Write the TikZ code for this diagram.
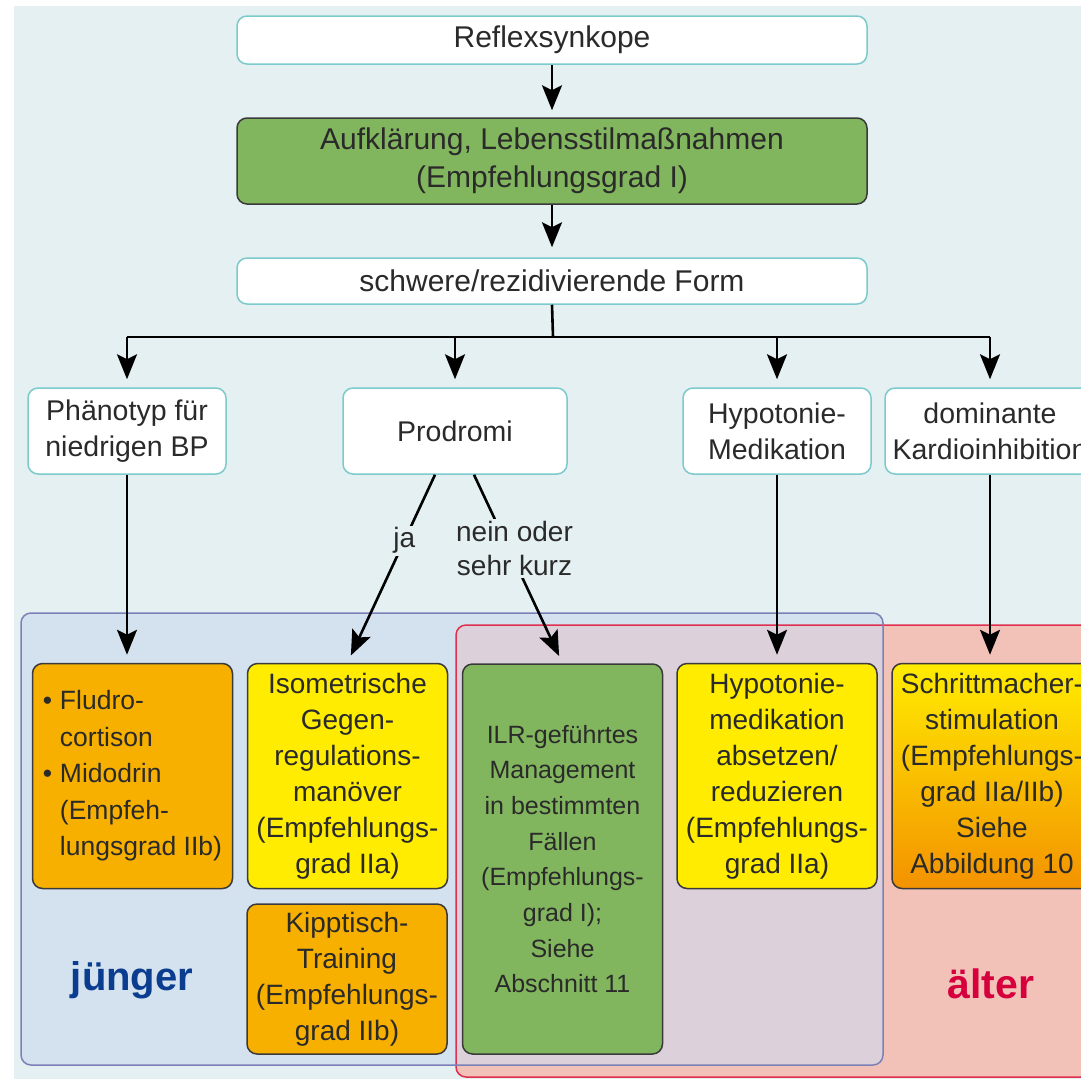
\documentclass[tikz,border=0pt]{standalone}
\usepackage{fontspec}
\setmainfont{Liberation Sans}
\usepackage{xcolor}
\usetikzlibrary{arrows.meta, positioning}

\definecolor{hgteal}{HTML}{E4F0F1}
\definecolor{randteal}{HTML}{7CCACB}
\definecolor{gruen}{HTML}{82B65E}
\definecolor{gelb}{HTML}{FFEC00}
\definecolor{orange}{HTML}{F8B000}
\definecolor{dunkelorange}{HTML}{F39200}
\definecolor{blaufeld}{HTML}{D4E2EF}
\definecolor{blaurand}{HTML}{7B80B8}
\definecolor{rotfeld}{HTML}{F2C1B8}
\definecolor{rotrand}{HTML}{E0304F}
\definecolor{ueberlapp}{HTML}{DCD1DA}
\definecolor{textgrau}{HTML}{2A2A2A}
\definecolor{dunkelrand}{HTML}{3A3A3A}
\definecolor{jungblau}{HTML}{0A3D8F}
\definecolor{altrot}{HTML}{D5003C}

\newcommand{\punkt}{\makebox[17pt][l]{\textbullet}}
\newcommand{\einzug}{\hspace*{17pt}}

\begin{document}
\begin{tikzpicture}[x=1pt, y=-1pt,
			frage/.style={draw=randteal, line width=1.5pt, fill=white, rounded corners=10pt, inner sep=0pt, align=center, text=textgrau, minimum height=86pt, font=\fontsize{28.5}{36}\selectfont},
			kopf/.style={frage, minimum width=630pt, font=\fontsize{30}{38}\selectfont},
			massnahme/.style={draw=dunkelrand, line width=1.5pt, rounded corners=10pt, inner sep=0pt, align=center, text=textgrau, minimum width=200pt, minimum height=225pt, font=\fontsize{28}{36}\selectfont},
			pfeil/.style={line width=2.6pt, black, -{Stealth[length=25pt, width=20pt, inset=5pt]}, shorten >=8pt},
			linie/.style={line width=2.6pt, black},
			antwort/.style={fill=hgteal, inner sep=2pt, align=center, text=textgrau, font=\fontsize{28}{34}\selectfont}
			]
			\useasboundingbox (0,0) rectangle (1081,1079);
			\clip (0,0) rectangle (1081,1079);
			\fill[hgteal] (14,6) rectangle (1081,1079);
			\fill[blaufeld, rounded corners=10pt] (21,613) rectangle (883,1065);
			\fill[rotfeld, rounded corners=10pt] (456,625) rectangle (1110,1077);
			\begin{scope}
				\clip[rounded corners=10pt] (21,613) rectangle (883,1065);
				\fill[ueberlapp, rounded corners=10pt] (456,625) rectangle (1110,1077);
			\end{scope}
			\draw[rotrand, line width=1.5pt, rounded corners=10pt] (456,625) rectangle (1110,1077);
			\draw[blaurand, line width=1.5pt, rounded corners=10pt] (21,613) rectangle (883,1065);

			\node [kopf, minimum height=48pt](reflex) at (552,40) {Reflexsynkope};
			\node [kopf, draw=dunkelrand, fill=gruen](aufklaerung) at (552,161) {Aufklärung, Lebensstilmaßnahmen\\(Empfehlungsgrad I)};
			\node [kopf, minimum height=46pt](schwer) at (552,281) {schwere/rezidivierende Form};
			\node [frage, minimum width=198pt](phaeno) at (127,431) {Phänotyp für\\niedrigen BP};
			\node [frage, minimum width=224pt](prodromi) at (455,431) {Prodromi};
			\node [frage, minimum width=188pt](hypo) at (777,431) {Hypotonie-\\Medikation};
			\node [frage, minimum width=210pt](kardio) at (990,431) {dominante\\Kardioinhibition};

			\node [massnahme, fill=orange, align=left, font=\fontsize{26.5}{36.5}\selectfont](fludro) at (132.5,776) {\punkt Fludro-\\\einzug cortison\\\punkt Midodrin\\\einzug (Empfeh-\\\einzug lungsgrad IIb)};
			\node [massnahme, fill=gelb](iso) at (347.5,776) {Isometrische\\Gegen-\\regulations-\\manöver\\(Empfehlungs-\\grad IIa)};
			\node [massnahme, fill=orange, minimum height=150pt](kipp) at (347,979) {Kipptisch-\\Training\\(Empfehlungs-\\grad IIb)};
			\node [massnahme, fill=gruen, minimum height=390pt, font=\fontsize{25}{35.7}\selectfont](ilr) at (562.5,859) {ILR-geführtes\\Management\\in bestimmten\\Fällen\\(Empfehlungs-\\grad I);\\Siehe\\Abschnitt 11};
			\node [massnahme, fill=gelb](absetzen) at (777,776) {Hypotonie-\\medikation\\absetzen/\\reduzieren\\(Empfehlungs-\\grad IIa)};
			\node [massnahme, top color=gelb, bottom color=dunkelorange](schritt) at (992,776) {Schrittmacher-\\stimulation\\(Empfehlungs-\\grad IIa/IIb)\\Siehe\\Abbildung 10};

			\node [text=jungblau, font=\fontsize{40}{48}\selectfont\bfseries](jung) at (132,980) {jünger};
			\node [text=altrot, font=\fontsize{41}{49}\selectfont\bfseries](alt) at (991,984) {älter};

			\coordinate (abzweig) at (553,337);
			\draw[pfeil, shorten >=7pt] (reflex) -- (aufklaerung);
			\draw[pfeil, shorten >=10pt] (aufklaerung) -- (schwer);
			\draw[linie] (schwer.south) -- (abzweig);
			\draw[linie] (abzweig -| phaeno.north) -- (abzweig -| kardio.north);
			\draw[pfeil] (abzweig -| phaeno.north) -- (phaeno.north);
			\draw[pfeil] (abzweig -| prodromi.north) -- (prodromi.north);
			\draw[pfeil] (abzweig -| hypo.north) -- (hypo.north);
			\draw[pfeil] (abzweig -| kardio.north) -- (kardio.north);

			\draw[pfeil] (phaeno.south) -- (phaeno.south |- fludro.north);
			\draw[pfeil] ([xshift=-20pt]prodromi.south) -- (iso.north) node[antwort, pos=0.35] {ja};
			\draw[pfeil] ([xshift=19pt]prodromi.south) -- (ilr.north) node[antwort, pos=0.39, xshift=6pt] {nein oder\\sehr kurz};
			\draw[pfeil] (hypo.south) -- (hypo.south |- absetzen.north);
			\draw[pfeil] (kardio.south) -- (kardio.south |- schritt.north);
		\end{tikzpicture}
\end{document}
